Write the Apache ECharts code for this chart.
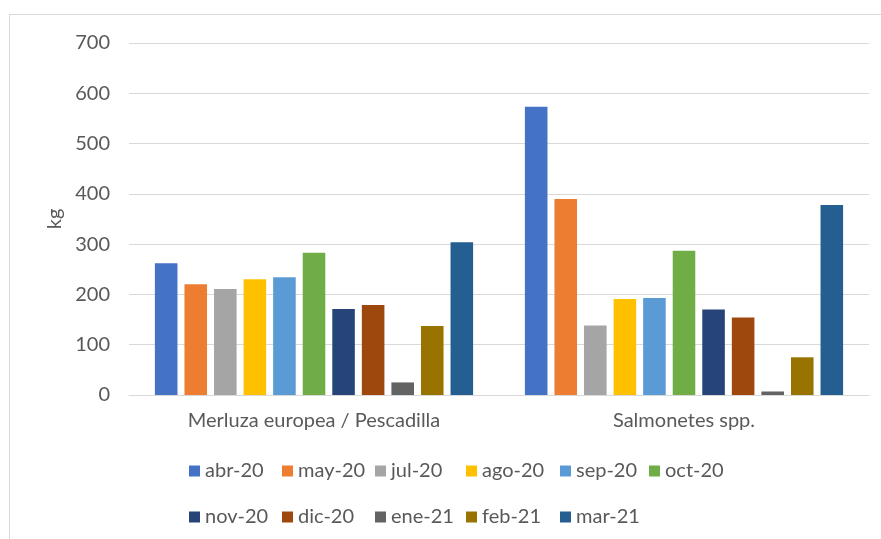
<!DOCTYPE html>
<html>
<head>
<meta charset="utf-8">
<script src="https://cdn.jsdelivr.net/npm/echarts@6/dist/echarts.min.js"></script>
<style>
  html, body { margin: 0; padding: 0; background: #ffffff; }
  #chart { position: absolute; left: 0; top: 0; width: 881px; height: 539px; }
  #frame { position: absolute; left: 9px; top: 14px; width: 900px; height: 600px;
           border: 1px solid #d9d9d9; pointer-events: none; }
</style>
</head>
<body>
<div id="frame"></div>
<div id="chart"></div>
<script>
// categorías (eje X)
const species = ['Merluza europea / Pescadilla', 'Salmonetes spp.'];
// meses (series)
const months = ['abr-20', 'may-20', 'jul-20', 'ago-20', 'sep-20', 'oct-20',
                'nov-20', 'dic-20', 'ene-21', 'feb-21', 'mar-21'];
// kg por mes: [Merluza, Salmonetes]
const abr20 = [262, 573];
const may20 = [220, 390];
const jul20 = [211, 138];
const ago20 = [230, 191];
const sep20 = [234, 193];
const oct20 = [283, 287];
const nov20 = [171, 170];
const dic20 = [179, 154];
const ene21 = [25, 7];
const feb21 = [137, 75];
const mar21 = [304, 378];
const yTicks = [0, 100, 200, 300, 400, 500, 600, 700];

const values = [abr20, may20, jul20, ago20, sep20, oct20, nov20, dic20, ene21, feb21, mar21];
const colors = ['#4472C4', '#ED7D31', '#A5A5A5', '#FFC000', '#5B9BD5', '#70AD47',
                '#264478', '#9E480E', '#636363', '#997300', '#255E91'];

const font = 'Lato';
const textColor = '#595959';

const chart = echarts.init(document.getElementById('chart'));

// leyenda en columnas, como la de Excel (6 por fila)
const colX = [184, 277, 370, 461, 555, 644];
const legends = colX.map((x, c) => ({
  left: x, top: 456,
  orient: 'vertical',
  itemWidth: 11, itemHeight: 11, itemGap: 26,
  icon: 'rect',
  textStyle: { color: textColor, fontSize: 20, fontFamily: font },
  data: months.filter((m, i) => i % 6 === c)
}));

const option = {
  animation: false,
  textStyle: { fontFamily: font },
  grid: { left: 129, right: 12, top: 43, bottom: 144 },
  legend: legends,
  xAxis: {
    type: 'category',
    data: species,
    axisLine: { lineStyle: { color: '#d9d9d9' } },
    axisTick: { show: false },
    axisLabel: { color: textColor, fontSize: 20, fontFamily: font, margin: 16 }
  },
  yAxis: {
    type: 'value',
    min: yTicks[0],
    max: yTicks[yTicks.length - 1],
    interval: 100,
    name: 'kg',
    nameLocation: 'middle',
    nameRotate: 90,
    nameGap: 62,
    nameTextStyle: { color: textColor, fontSize: 20, fontFamily: font },
    axisLine: { show: false },
    axisTick: { show: false },
    splitLine: { lineStyle: { color: '#d9d9d9' } },
    axisLabel: { color: textColor, fontSize: 20, fontFamily: font, margin: 19 }
  },
  series: months.map((m, i) => ({
    name: m,
    type: 'bar',
    data: values[i],
    itemStyle: { color: colors[i] },
    barGap: '31%',
    barCategoryGap: '14%'
  }))
};

chart.setOption(option);
</script>
</body>
</html>
